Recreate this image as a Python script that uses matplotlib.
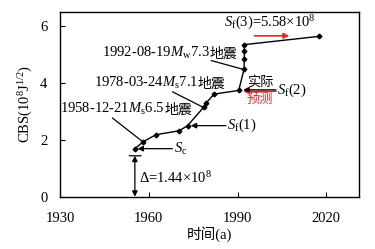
import matplotlib
matplotlib.use("Agg")
import matplotlib.pyplot as plt

plt.rcParams['font.family'] = ['Liberation Serif', 'Noto Sans CJK SC']
plt.rcParams['mathtext.fontset'] = 'custom'
plt.rcParams['mathtext.rm'] = 'Liberation Serif'
plt.rcParams['mathtext.it'] = 'Liberation Serif:italic'
plt.rcParams['mathtext.bf'] = 'Liberation Serif:bold'

# data
years = [1955.3, 1958.2, 1962.4, 1970.3, 1973.1, 1978.5, 1979.3, 1982.1,
         1990.4, 1992.2, 1992.3, 1992.3, 1992.3, 2017.4]
cbs = [1.69, 1.94, 2.18, 2.32, 2.50, 3.14, 3.29, 3.61,
       3.74, 4.49, 4.86, 5.11, 5.35, 5.64]
xticks = [1930, 1960, 1990, 2020]
yticks = [0, 2, 4, 6]

FS = 10.5
CJK = ['Noto Sans CJK SC']

fig = plt.figure(figsize=(3.75, 2.49), dpi=100)
ax = fig.add_axes([0.16, 0.21, 0.797, 0.742])
ax.plot(years, cbs, color='black', lw=1.0, marker='D', ms=2.4)
ax.set_xlim(1930, 2031)
ax.set_ylim(0, 6.5)
ax.set_xticks(xticks)
ax.set_yticks(yticks)
ax.tick_params(direction='in', length=3.5, width=0.8, labelsize=FS)
ax.tick_params(axis='x', pad=11)
ax.tick_params(axis='y', pad=9)
for s in ax.spines.values():
    s.set_linewidth(1.0)
ax.set_ylabel('CBS(10$^8$J$^{1/2}$)', fontsize=FS, labelpad=4)
ax.set_xlabel('时间(a)', fontsize=FS, labelpad=1,
              family=['Liberation Serif', 'Noto Sans CJK SC'])


def label(x, y, math_part, cjk_part, color='black'):
    t = ax.text(x, y, math_part, fontsize=FS, va='center', ha='left', color=color)
    if cjk_part:
        ax.annotate(cjk_part, xy=(1, 0.45), xycoords=t, va='center', ha='left',
                    fontsize=FS - 0.5, family=CJK, color=color)
    return t


def line(p0, p1, color='black', style='-', lw=0.9):
    ax.annotate('', xy=p1, xytext=p0,
                arrowprops=dict(arrowstyle=style, color=color, lw=lw,
                                shrinkA=0, shrinkB=0, mutation_scale=8))


# event labels
label(1930.1, 3.10, '1958-12-21$M_\\mathrm{s}$6.5', '地震')
line((1947.7, 2.77), (1957.9, 1.94))
label(1941.4, 4.00, '1978-03-24$M_\\mathrm{s}$7.1', '地震')
line((1968.0, 3.69), (1978.5, 3.14))
label(1944.2, 5.06, '1992-08-19$M_\\mathrm{w}$7.3', '地震')
line((1981.1, 4.79), (1991.6, 4.49))

# S_f(3)
ax.text(1985.4, 6.12, '$S_\\mathrm{f}$(3)=5.58×10$^8$', fontsize=FS, va='center', ha='left')
line((1995.7, 5.66), (2007.5, 5.66), color='#e8262b', style='-|>', lw=1.2)

# S_f(2)
line((2003.0, 3.71), (1991.9, 3.71), color='#e8262b', style='-|>', lw=1.2)
line((2003.0, 3.76), (1991.9, 3.76), color='black', style='-|>', lw=0.9)
ax.text(1997.6, 4.03, '实际', fontsize=FS - 1, va='center', ha='center', family=CJK)
ax.text(1997.6, 3.43, '预测', fontsize=FS - 1, va='center', ha='center', family=CJK,
        color='#e8262b')
ax.text(2003.4, 3.74, '$S_\\mathrm{f}$(2)', fontsize=FS, va='center', ha='left')

# S_f(1)
line((1986.1, 2.50), (1974.2, 2.50), style='-|>')
ax.text(1986.5, 2.50, '$S_\\mathrm{f}$(1)', fontsize=FS, va='center', ha='left')

# S_c
line((1968.0, 1.69), (1956.2, 1.69), style='-|>')
ax.text(1968.6, 1.69, '$S_\\mathrm{c}$', fontsize=FS, va='center', ha='left')

# Delta
line((1955.3, 0.0), (1955.3, 1.44), style='<|-|>')
line((1953.4, 1.44), (1957.4, 1.44))
ax.text(1956.8, 0.65, 'Δ=1.44×10$^8$', fontsize=FS, va='center', ha='left')

fig.savefig('out.png', dpi=100)
